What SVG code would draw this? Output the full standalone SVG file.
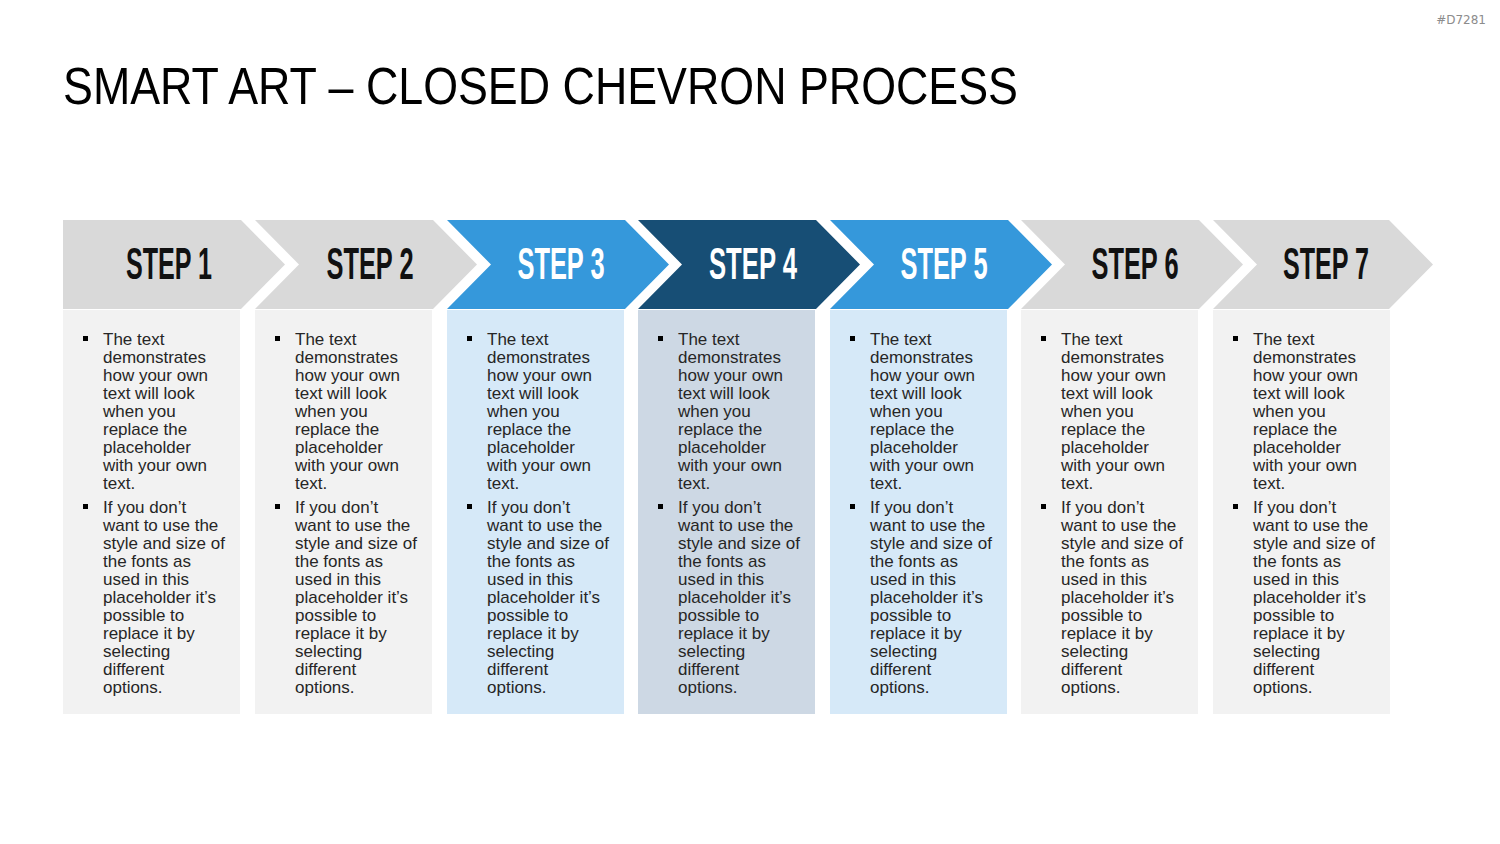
<svg xmlns="http://www.w3.org/2000/svg" width="1500" height="844" viewBox="0 0 1500 844">
<style>
.title{font-family:"Liberation Sans",Arial,sans-serif;font-size:52px;fill:#000}
.tag{font-family:"DejaVu Sans",sans-serif;font-size:12px;fill:#8c8c8c}
.step{font-family:"Liberation Sans",Arial,sans-serif;font-weight:bold;font-size:45px;text-anchor:middle}
.dk{fill:#111}
.wt{fill:#fff}
.body{font-family:"Liberation Sans",Arial,sans-serif;font-size:17px;fill:#262626}
.cg{fill:#d9d9d9}.cb{fill:#3598db}.cd{fill:#174e75}
.pg{fill:#f2f2f2}.pb{fill:#d6e9f8}.pd{fill:#cdd8e4}
.blt{fill:#000}
</style>
<defs>
<g id="txt">
<rect class="blt" x="20" y="336" width="5" height="5"/>
<rect class="blt" x="20" y="504" width="5" height="5"/>
<text class="body">
<tspan x="40" y="345">The text</tspan>
<tspan x="40" y="363">demonstrates</tspan>
<tspan x="40" y="381">how your own</tspan>
<tspan x="40" y="399">text will look</tspan>
<tspan x="40" y="417">when you</tspan>
<tspan x="40" y="435">replace the</tspan>
<tspan x="40" y="453">placeholder</tspan>
<tspan x="40" y="471">with your own</tspan>
<tspan x="40" y="489">text.</tspan>
<tspan x="40" y="513">If you don’t</tspan>
<tspan x="40" y="531">want to use the</tspan>
<tspan x="40" y="549">style and size of</tspan>
<tspan x="40" y="567">the fonts as</tspan>
<tspan x="40" y="585">used in this</tspan>
<tspan x="40" y="603">placeholder it’s</tspan>
<tspan x="40" y="621">possible to</tspan>
<tspan x="40" y="639">replace it by</tspan>
<tspan x="40" y="657">selecting</tspan>
<tspan x="40" y="675">different</tspan>
<tspan x="40" y="693">options.</tspan>
</text>
</g>
</defs>
<text class="tag" x="1486" y="24" text-anchor="end">#D7281</text>
<text class="title" x="63" y="104" textLength="955" lengthAdjust="spacingAndGlyphs">SMART ART – CLOSED CHEVRON PROCESS</text>

<g id="step1">
<path class="cg" d="M63,220 H241 L285,264.5 L241,309 H63 Z"/>
<rect class="pg" x="63" y="310" width="177" height="404"/>
<text class="step dk" x="169" y="279" textLength="86" lengthAdjust="spacingAndGlyphs">STEP 1</text>
<use href="#txt" x="63"/>
</g>
<g id="step2">
<path class="cg" d="M255,220 H433 L477,264.5 L433,309 H255 L299,264.5 Z"/>
<rect class="pg" x="255" y="310" width="177" height="404"/>
<text class="step dk" x="370" y="279" textLength="87" lengthAdjust="spacingAndGlyphs">STEP 2</text>
<use href="#txt" x="255"/>
</g>
<g id="step3">
<path class="cb" d="M447,220 H625 L669,264.5 L625,309 H447 L491,264.5 Z"/>
<rect class="pb" x="447" y="310" width="177" height="404"/>
<text class="step wt" x="561" y="279" textLength="87" lengthAdjust="spacingAndGlyphs">STEP 3</text>
<use href="#txt" x="447"/>
</g>
<g id="step4">
<path class="cd" d="M638,220 H816 L860,264.5 L816,309 H638 L682,264.5 Z"/>
<rect class="pd" x="638" y="310" width="177" height="404"/>
<text class="step wt" x="753" y="279" textLength="88" lengthAdjust="spacingAndGlyphs">STEP 4</text>
<use href="#txt" x="638"/>
</g>
<g id="step5">
<path class="cb" d="M830,220 H1008 L1052,264.5 L1008,309 H830 L874,264.5 Z"/>
<rect class="pb" x="830" y="310" width="177" height="404"/>
<text class="step wt" x="944" y="279" textLength="87" lengthAdjust="spacingAndGlyphs">STEP 5</text>
<use href="#txt" x="830"/>
</g>
<g id="step6">
<path class="cg" d="M1021,220 H1199 L1243,264.5 L1199,309 H1021 L1065,264.5 Z"/>
<rect class="pg" x="1021" y="310" width="177" height="404"/>
<text class="step dk" x="1135" y="279" textLength="87" lengthAdjust="spacingAndGlyphs">STEP 6</text>
<use href="#txt" x="1021"/>
</g>
<g id="step7">
<path class="cg" d="M1213,220 H1389 L1433,264.5 L1389,309 H1213 L1257,264.5 Z"/>
<rect class="pg" x="1213" y="310" width="177" height="404"/>
<text class="step dk" x="1326" y="279" textLength="86" lengthAdjust="spacingAndGlyphs">STEP 7</text>
<use href="#txt" x="1213"/>
</g>
<g id="connectors"/>
</svg>
